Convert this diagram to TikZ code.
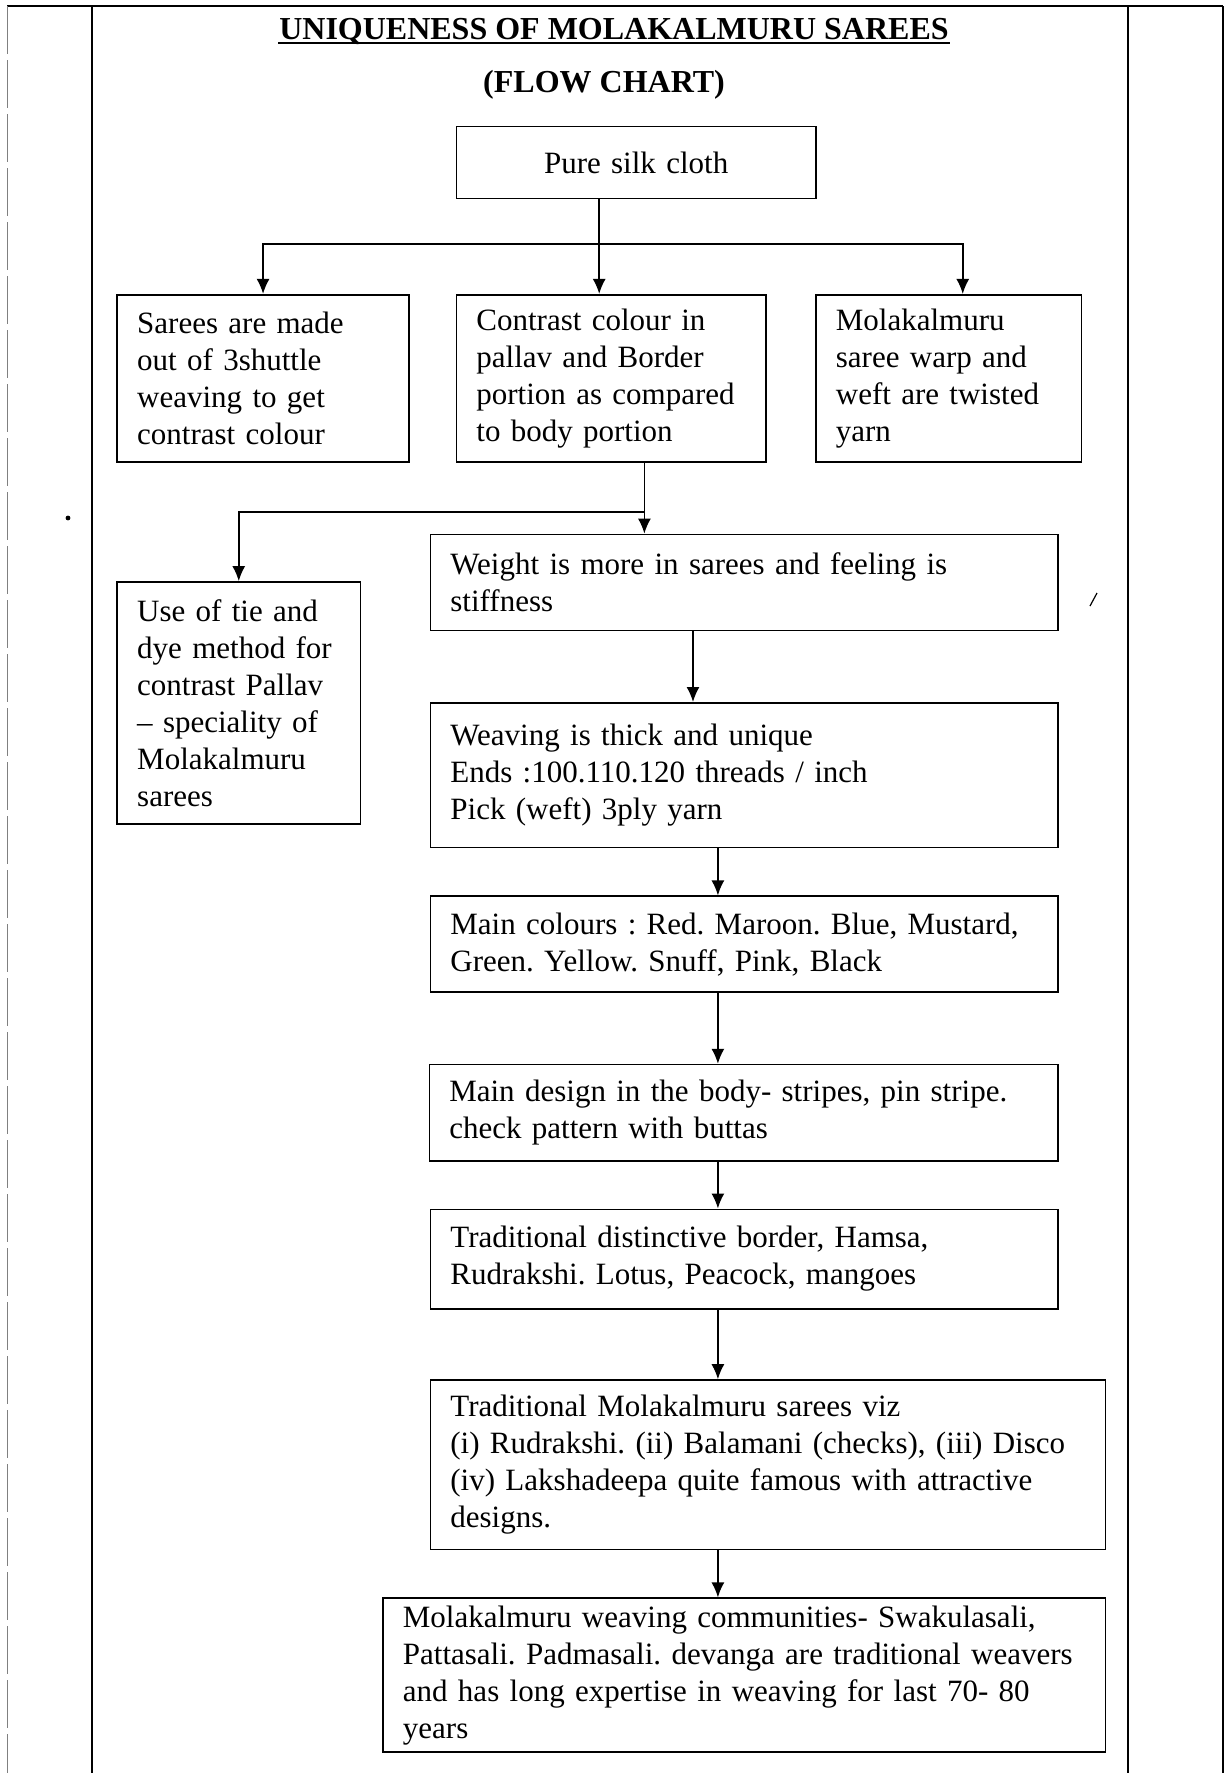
\documentclass[tikz,border=0pt]{standalone}
\usepackage{fontspec}
\setmainfont{Liberation Serif}
\usepackage{tikz}
\usetikzlibrary{arrows.meta}

\newcommand{\boxfont}{\fontsize{15.5pt}{18.5pt}\selectfont\frenchspacing\hyphenpenalty=10000\exhyphenpenalty=10000}
\newcommand{\headfont}{\fontsize{16pt}{19pt}\selectfont\bfseries}

\tikzset{
    stepbox/.style={draw, rectangle, anchor=north west, align=left,
        inner xsep=10pt, inner ysep=0pt, font=\boxfont},
    headline/.style={anchor=base, inner sep=0pt, font=\headfont}
}

\begin{document}
\begin{tikzpicture}[>={Latex[length=7.5pt,width=6.5pt]}, x=0.5pt, y=-0.5pt, line width=0.8pt]
    \useasboundingbox (0,0) rectangle (1230,1773);

    % 1. Page frame
    \draw (7,6) -- (1223,6);
    \draw[gray, line width=0.5pt, dash pattern=on 24pt off 3pt] (7,6) -- (7,1773);
    \draw (92,6) -- (92,1773);
    \draw (1128,6) -- (1128,1773);
    \draw (1223,6) -- (1223,1773);

    % 2. Heading
    \node[headline] (title) at (614,39.5) {UNIQUENESS OF MOLAKALMURU SAREES};
    \draw ([yshift=-1.8pt]title.base west) -- ([yshift=-1.8pt]title.base east);
    \node[headline] (subtitle) at (604,92) {(FLOW CHART)};

    % 3. Boxes
    \node[stepbox, align=center, text width=159.75pt, minimum height=36.15pt] (silk) at (455.6,125.5) {Pure silk cloth};

    \node[stepbox, text width=125.85pt, minimum height=83.65pt] (shuttle) at (116.4,293.9)
        {Sarees are made\\out of 3shuttle\\weaving to get\\contrast colour};
    \node[stepbox, text width=134.9pt, minimum height=83.65pt] (contrast) at (455.6,293.9)
        {Contrast colour in\\pallav and Border\\portion as compared\\to body portion};
    \node[stepbox, text width=112.85pt, minimum height=83.65pt] (warp) at (815.1,293.9)
        {Molakalmuru\\saree warp and\\weft are twisted\\yarn};

    \node[stepbox, text width=101.55pt, minimum height=120.95pt] (tiedye) at (116.4,581.1)
        {Use of tie and\\dye method for\\contrast Pallav\\-- speciality of\\Molakalmuru\\sarees};

    \node[stepbox, text width=293.7pt, minimum height=48.05pt] (weight) at (429.6,533.6)
        {Weight is more in sarees and feeling is\\stiffness};
    \node[stepbox, text width=293.7pt, minimum height=72.4pt] (weaving) at (429.6,702)
        {Weaving is thick and unique\\Ends :100.110.120 threads / inch\\Pick (weft) 3ply yarn};
    \node[stepbox, text width=293.7pt, minimum height=48pt] (colours) at (429.6,895.4)
        {Main colours : Red. Maroon. Blue, Mustard,\\Green. Yellow. Snuff, Pink, Black};
    \node[stepbox, text width=294.25pt, minimum height=48.05pt] (design) at (428.5,1063.8)
        {Main design in the body- stripes, pin stripe.\\check pattern with buttas};
    \node[stepbox, text width=293.7pt, minimum height=49.75pt] (border) at (429.6,1208.5)
        {Traditional distinctive border, Hamsa,\\Rudrakshi. Lotus, Peacock, mangoes};
    \node[stepbox, text width=317.45pt, minimum height=84.8pt] (viz) at (429.6,1379.2)
        {Traditional Molakalmuru sarees viz\\(i) Rudrakshi. (ii) Balamani (checks), (iii) Disco\\(iv) Lakshadeepa quite famous with attractive\\designs.};
    \node[stepbox, text width=341.2pt, minimum height=76.9pt] (community) at (382.1,1597.4)
        {Molakalmuru weaving communities- Swakulasali,\\Pattasali. Padmasali. devanga are traditional weavers\\and has long expertise in weaving for last 70- 80\\years};

    % 4. Connectors
    \coordinate (fork1) at (599.2,244.2);
    \draw (silk.south -| fork1) -- (fork1);
    \draw[->] (fork1) -- (contrast.north -| fork1);
    \draw[->] (fork1) -| (shuttle.north);
    \draw[->] (fork1) -| ([xshift=7pt]warp.north);

    \coordinate (fork2) at (644.4,512.1);
    \draw (contrast.south -| fork2) -- (fork2);
    \draw[->] (fork2) -- (weight.north -| fork2);
    \draw[->] (fork2) -| (tiedye.north);

    \coordinate (spine1) at (693,0);
    \draw[->] (weight.south -| spine1) -- (weaving.north -| spine1);

    \coordinate (spine) at (717.9,0);
    \foreach \a/\b in {weaving/colours, colours/design, design/border, border/viz, viz/community} {
        \draw[->] (\a.south -| spine) -- (\b.north -| spine);
    }

    % 5. Stray marks
    \fill (68,518) circle (1.2pt);
    \draw[line width=0.6pt] (1090,606) -- (1097,593);
\end{tikzpicture}
\end{document}
